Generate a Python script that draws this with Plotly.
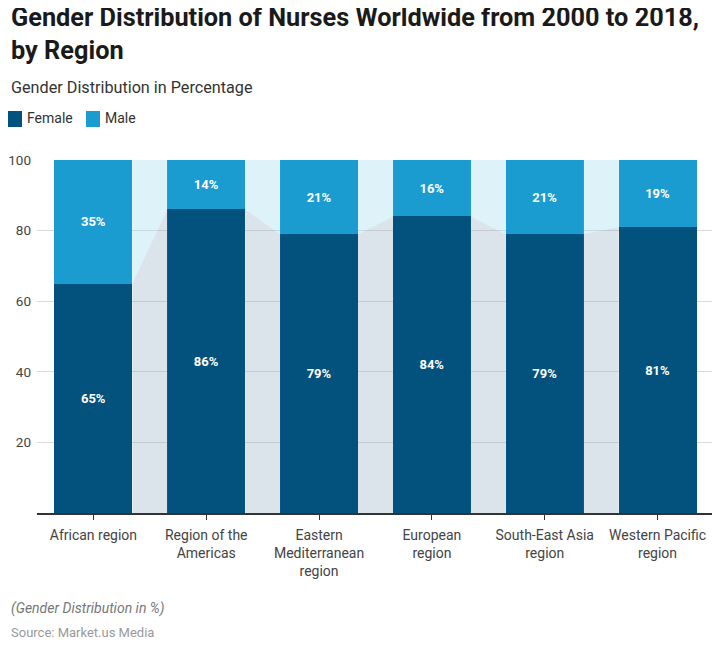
import plotly.graph_objects as go

categories = ["African region", "Region of the<br>Americas", "Eastern<br>Mediterranean<br>region",
              "European<br>region", "South-East Asia<br>region", "Western Pacific<br>region"]
female = [65, 86, 79, 84, 79, 81]
male = [35, 14, 21, 16, 21, 19]
series_names = ["Female", "Male"]

FEMALE_C = "#03527d"
MALE_C = "#1b9cd0"
FEMALE_GAP = "rgba(150,172,194,0.33)"
MALE_GAP = "rgba(155,216,240,0.33)"
BARGAP = 0.31
half = (1 - BARGAP) / 2

# page offset (browser body margin) compensation
OFF = 8
W, H = 720 - OFF, 647 - OFF
ML, MR, MT, MB = 29, 6, 152, 134
PW = W - ML - MR
PH = H - MT - MB


def px(xr):
    return (xr - OFF - ML) / PW


def py(yr):
    return (H - MB - (yr - OFF)) / PH


xs = list(range(len(categories)))
fig = go.Figure()

# connecting areas between bars
for i in range(len(xs) - 1):
    x0, x1 = xs[i] + half, xs[i + 1] - half
    tot0 = female[i] + male[i]
    tot1 = female[i + 1] + male[i + 1]
    fig.add_trace(go.Scatter(x=[x0, x0, x1, x1, x0], y=[0, female[i], female[i + 1], 0, 0],
                             fill="toself", fillcolor=FEMALE_GAP, mode="lines",
                             line=dict(width=0), hoverinfo="skip", showlegend=False))
    fig.add_trace(go.Scatter(x=[x0, x0, x1, x1, x0], y=[female[i], tot0, tot1, female[i + 1], female[i]],
                             fill="toself", fillcolor=MALE_GAP, mode="lines",
                             line=dict(width=0), hoverinfo="skip", showlegend=False))

for vals, name, col in [(female, series_names[0], FEMALE_C), (male, series_names[1], MALE_C)]:
    fig.add_trace(go.Bar(x=xs, y=vals, name=name, marker=dict(color=col, line=dict(width=0)),
                         text=[f"{v}%" for v in vals], textposition="inside", insidetextanchor="middle",
                         textfont=dict(color="white", size=13, family="Roboto", weight="bold"),
                         textangle=0, showlegend=False))

annotations = [
    dict(text="<b>Gender Distribution of Nurses Worldwide from 2000 to 2018,<br>by Region</b>",
         x=px(10), y=py(34), xanchor="left", yanchor="middle", align="left", borderpad=0,
         font=dict(size=25.3, color="#1a1a1a", family="Roboto")),
    dict(text="Gender Distribution in Percentage", x=px(9), y=py(87), xanchor="left", yanchor="middle",
         font=dict(size=16.2, color="#333333")),
    dict(text="<i>(Gender Distribution in %)</i>", x=px(9), y=py(608), xanchor="left", yanchor="middle",
         font=dict(size=14, color="#777777")),
    dict(text="Source: Market.us Media", x=px(9), y=py(632), xanchor="left", yanchor="middle",
         font=dict(size=13, color="#9a9a9a")),
    dict(text=series_names[0], x=px(25), y=py(118), xanchor="left", yanchor="middle",
         font=dict(size=14, color="#333333")),
    dict(text=series_names[1], x=px(103), y=py(118), xanchor="left", yanchor="middle",
         font=dict(size=14, color="#333333")),
]
for a in annotations:
    a.update(xref="paper", yref="paper", showarrow=False)

shapes = [
    dict(type="rect", xref="paper", yref="paper", x0=px(8), x1=px(22), y0=py(127), y1=py(111),
         fillcolor=FEMALE_C, line=dict(width=0)),
    dict(type="rect", xref="paper", yref="paper", x0=px(86), x1=px(100), y0=py(127), y1=py(111),
         fillcolor=MALE_C, line=dict(width=0)),
]

fig.update_layout(
    barmode="stack", bargap=BARGAP,
    width=W, height=H,
    margin=dict(l=ML, r=MR, t=MT, b=MB, autoexpand=False),
    paper_bgcolor="white", plot_bgcolor="white",
    font=dict(family="Roboto", color="#333333"),
    showlegend=False,
    xaxis=dict(range=[-0.5, len(xs) - 0.5], tickvals=xs, ticktext=categories,
               showgrid=False, showline=True, linecolor="#333333", linewidth=1.5,
               ticks="outside", ticklen=5, tickcolor="#333333", zeroline=False,
               automargin=False, ticklabelstandoff=3,
               tickfont=dict(size=14, color="#444444")),
    yaxis=dict(range=[0, 100], tickvals=[20, 40, 60, 80, 100], showgrid=True,
               gridcolor="#dadada", gridwidth=1, zeroline=False, showline=False,
               ticks="", ticklabelstandoff=5, automargin=False,
               tickfont=dict(size=13.5, color="#444444")),
    annotations=annotations,
    shapes=shapes,
)

fig.write_html("out.html")
